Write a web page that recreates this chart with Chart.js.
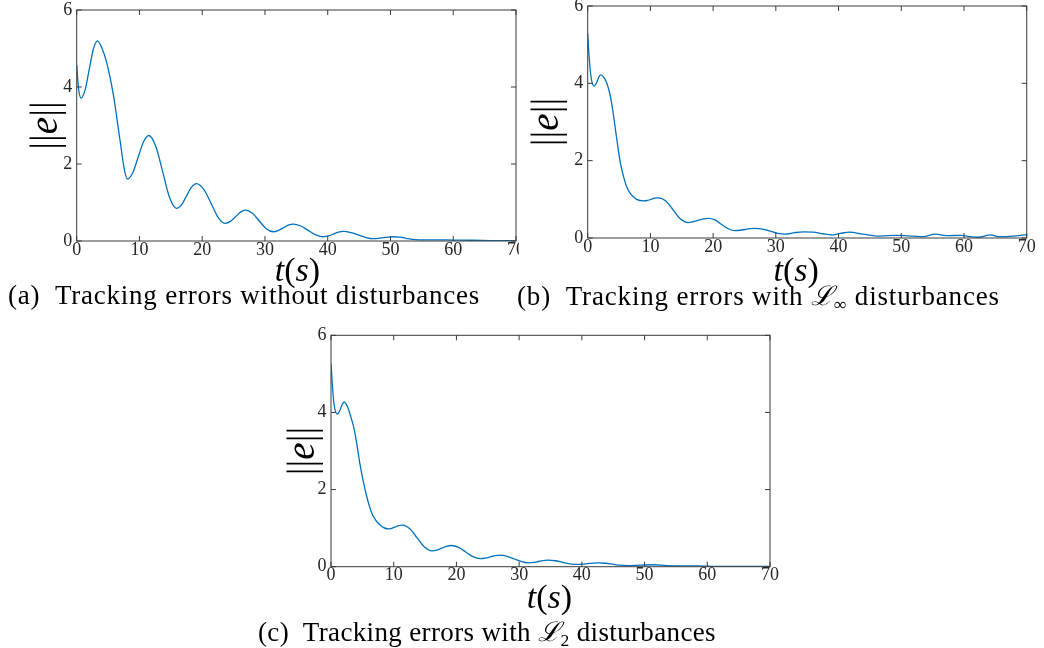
<!DOCTYPE html>
<html>
<head>
<meta charset="utf-8">
<script src="https://cdn.jsdelivr.net/npm/chart.js@4.4.0/dist/chart.umd.min.js"></script>
<style>
  html, body { margin: 0; padding: 0; background: #fff; }
  body { width: 1044px; height: 648px; position: relative; overflow: hidden; }
  canvas { position: absolute; }
  .cap { position: absolute; font-family: 'Liberation Serif', 'DejaVu Serif', serif; font-size: 27px;
         line-height: 1; color: #000; white-space: nowrap; }
  .cap .scr { font-family: 'DejaVu Serif', serif; font-style: italic; }
  .cap sub { font-size: 0.65em; vertical-align: -0.3em; line-height: 0; }
</style>
</head>
<body>
<canvas id="chartA" width="519" height="295" style="left:0;top:0"></canvas>
<canvas id="chartB" width="525" height="292" style="left:519px;top:0"></canvas>
<canvas id="chartC" width="540" height="302" style="left:250px;top:318px"></canvas>

<div class="cap" id="capA" style="left:8px;top:282px">(a)&nbsp; Tracking errors without disturbances</div>
<div class="cap" id="capB" style="left:517px;top:282px">(b)&nbsp; Tracking errors with <span class="scr">ℒ</span><sub>∞</sub> disturbances</div>
<div class="cap" id="capC" style="left:258px;top:618px">(c)&nbsp; Tracking errors with <span class="scr">ℒ</span><sub>2</sub> disturbances</div>

<script>
// time axis ticks and error axis ticks
const xTicks = [0, 10, 20, 30, 40, 50, 60, 70];
const yTicks = [0, 2, 4, 6];

// (a) without disturbances
const timeA = [0, 0.3, 0.7, 1.35, 2.0, 2.65, 3.3, 4.0, 4.8, 5.8, 6.9, 7.6, 8.1, 8.95, 9.8, 10.65, 11.5,
  12.6, 13.7, 14.8, 15.9, 16.7, 17.5, 18.3, 19.1, 20.25, 21.4, 22.55, 23.7, 24.5, 25.3, 26.1, 26.9,
  28.0, 29.1, 30.2, 31.3, 32.1, 32.9, 33.7, 34.5, 35.7, 36.9, 38.1, 39.3, 40.1, 40.9, 41.7, 42.5,
  43.7, 44.9, 46.1, 47.3, 48.1, 48.9, 49.7, 50.5, 51.5, 52.5, 53.5, 54.5, 57, 60, 63, 66, 70];
const errorA = [4.57, 3.95, 3.71, 3.93, 4.46, 4.98, 5.2, 5.02, 4.62, 3.84, 2.62, 1.85, 1.61, 1.78, 2.18, 2.58, 2.74,
  2.46, 1.8, 1.13, 0.85, 0.94, 1.17, 1.4, 1.49, 1.34, 0.98, 0.61, 0.46, 0.51, 0.63, 0.75, 0.8,
  0.72, 0.52, 0.32, 0.24, 0.27, 0.34, 0.41, 0.44, 0.39, 0.275, 0.16, 0.11, 0.13, 0.18, 0.23, 0.25,
  0.22, 0.155, 0.09, 0.06, 0.067, 0.085, 0.103, 0.11, 0.098, 0.07, 0.042, 0.03, 0.03, 0.025, 0.02, 0.012, 0.005];

// (b) with L-infinity disturbances
const timeB = [0, 0.2, 0.5, 1.0, 1.27, 1.55, 1.82, 2.1, 2.6, 3.0, 3.5, 4.0, 4.6, 5.2, 5.7, 6.2, 6.75, 7.8,
  8.9, 9.5, 10.1, 10.7, 11.3, 12.5, 13.65, 14.8, 16.0, 16.8, 17.6, 18.4, 19.2, 20.3, 21.35, 22.4, 23.5,
  24.3, 25.1, 25.9, 26.7, 27.9, 29.1, 30.3, 31.5, 33, 34.4, 36.0, 37.5, 38.9, 40.3, 41.8, 43.9, 46.6,
  49.3, 51.9, 53.5, 55.4, 57.2, 59.6, 61.0, 62.3, 64.2, 65.7, 67.9, 69.7, 70];
const errorB = [5.29, 4.75, 4.2, 3.93, 3.97, 4.07, 4.18, 4.22, 4.15, 4.02, 3.75, 3.3, 2.6, 1.95, 1.6, 1.33, 1.16, 1.0,
  0.96, 0.97, 1.0, 1.03, 1.04, 0.95, 0.72, 0.49, 0.4, 0.42, 0.455, 0.49, 0.51, 0.47, 0.35, 0.24, 0.19,
  0.2, 0.22, 0.24, 0.25, 0.23, 0.175, 0.12, 0.1, 0.14, 0.16, 0.15, 0.11, 0.08, 0.12, 0.15, 0.1, 0.05,
  0.07, 0.05, 0.035, 0.1, 0.06, 0.07, 0.035, 0.02, 0.08, 0.035, 0.05, 0.08, 0.07];

// (c) with L2 disturbances
const timeC = [0, 0.2, 0.5, 1.0, 1.27, 1.55, 1.82, 2.1, 2.7, 3.1, 3.6, 4.1, 4.6, 5.1, 5.7, 6.2, 6.75, 7.9,
  9.1, 9.7, 10.25, 10.8, 11.4, 12.6, 13.75, 14.9, 16.1, 16.9, 17.65, 18.4, 19.2, 20.35, 21.5, 22.65, 23.8,
  24.6, 25.4, 26.2, 27.0, 28.1, 29.25, 30.4, 31.5, 32.3, 33.05, 33.8, 34.6, 35.75, 36.9, 38.05, 39.2,
  40.05, 40.9, 41.75, 42.6, 43.75, 44.9, 46.05, 47.2, 49.3, 51.4, 53.5, 56, 58.3, 61.5, 65, 70];
const errorC = [5.27, 4.75, 4.2, 3.96, 4.0, 4.11, 4.22, 4.27, 4.12, 3.92, 3.63, 3.2, 2.68, 2.25, 1.82, 1.53, 1.3, 1.07,
  0.98, 0.995, 1.03, 1.065, 1.08, 0.98, 0.745, 0.51, 0.41, 0.43, 0.48, 0.53, 0.55, 0.5, 0.38, 0.26, 0.21,
  0.223, 0.255, 0.287, 0.3, 0.27, 0.2, 0.13, 0.1, 0.11, 0.135, 0.16, 0.17, 0.154, 0.115, 0.076, 0.06,
  0.066, 0.08, 0.094, 0.1, 0.09, 0.065, 0.04, 0.03, 0.04, 0.05, 0.03, 0.02, 0.02, 0.008, 0.005, 0.005];

const yLabelParts = [['||', false], ['e', true], ['||', false]];
const xLabelParts = [['t', true], ['(', false], ['s', true], [')', false]];

const lineColor = '#0072BD';
const axisColor = '#3a3a3a';
const tickColor = '#262626';
const serif = "'Liberation Serif', 'Times New Roman', serif";

function drawParts(ctx, parts, size) {
  const fontOf = it => (it ? 'italic ' : '') + size + 'px ' + serif;
  let total = 0;
  parts.forEach(p => { ctx.font = fontOf(p[1]); total += ctx.measureText(p[0]).width; });
  let x = -total / 2;
  ctx.textBaseline = 'alphabetic';
  ctx.textAlign = 'left';
  parts.forEach(p => {
    ctx.font = fontOf(p[1]);
    ctx.fillText(p[0], x, 0);
    x += ctx.measureText(p[0]).width;
  });
}

// box with inward ticks on all four sides, MATLAB style
const matlabAxes = {
  id: 'matlabAxes',
  afterDatasetsDraw(chart) {
    const {ctx, chartArea: a, scales: {x, y}} = chart;
    const len = 5;
    ctx.save();
    ctx.strokeStyle = axisColor;
    ctx.lineWidth = 1;
    ctx.strokeRect(a.left, a.top, a.width, a.height);
    ctx.beginPath();
    x.ticks.forEach(t => {
      const px = x.getPixelForValue(t.value);
      ctx.moveTo(px, a.bottom); ctx.lineTo(px, a.bottom - len);
      ctx.moveTo(px, a.top); ctx.lineTo(px, a.top + len);
    });
    y.ticks.forEach(t => {
      const py = y.getPixelForValue(t.value);
      ctx.moveTo(a.left, py); ctx.lineTo(a.left + len, py);
      ctx.moveTo(a.right, py); ctx.lineTo(a.right - len, py);
    });
    ctx.stroke();
    ctx.restore();
  },
  afterDraw(chart, args, opts) {
    const {ctx, chartArea: a} = chart;
    ctx.save();
    ctx.fillStyle = '#000';
    ctx.translate(a.left - opts.yGap, (a.top + a.bottom) / 2);
    ctx.rotate(-Math.PI / 2);
    drawParts(ctx, yLabelParts, 39);
    ctx.restore();
    ctx.save();
    ctx.fillStyle = '#000';
    ctx.translate((a.left + a.right) / 2 + opts.xShift, a.bottom + opts.xDrop);
    drawParts(ctx, xLabelParts, 34);
    ctx.restore();
  }
};

function makeChart(id, times, errors, box, labels) {
  const canvas = document.getElementById(id);
  const W = canvas.width, H = canvas.height;
  const tickFont = {family: serif, size: 18, lineHeight: 1};
  return new Chart(canvas, {
    type: 'line',
    data: {
      datasets: [{
        data: times.map((t, i) => ({x: t, y: errors[i]})),
        borderColor: lineColor,
        borderWidth: 1.3,
        pointRadius: 0,
        fill: false,
        cubicInterpolationMode: 'monotone'
      }]
    },
    options: {
      responsive: false,
      animation: false,
      events: [],
      layout: {padding: {left: 0, top: box.top, right: W - box.right, bottom: 0}},
      plugins: {legend: {display: false}, tooltip: {enabled: false}, matlabAxes: labels},
      scales: {
        x: {
          type: 'linear', min: 0, max: 70,
          afterBuildTicks: s => { s.ticks = xTicks.map(v => ({value: v})); },
          grid: {display: false, drawTicks: false},
          border: {display: false},
          ticks: {color: tickColor, font: tickFont, padding: 0, maxRotation: 0, autoSkip: false},
          afterFit: s => { s.height = H - box.bottom; s.paddingLeft = 0; s.paddingRight = 0; }
        },
        y: {
          type: 'linear', min: 0, max: 6,
          afterBuildTicks: s => { s.ticks = yTicks.map(v => ({value: v})); },
          grid: {display: false, drawTicks: false},
          border: {display: false},
          ticks: {color: tickColor, font: tickFont, padding: 4.5},
          afterFit: s => { s.width = box.left; s.paddingTop = 0; s.paddingBottom = 0; }
        }
      }
    },
    plugins: [matlabAxes]
  });
}

makeChart('chartA', timeA, errorA, {left: 76.7, top: 10, right: 516, bottom: 241}, {yGap: 20, xShift: 1, xDrop: 40});
makeChart('chartB', timeB, errorB, {left: 68.7, top: 6, right: 507.7, bottom: 238}, {yGap: 30, xShift: -11, xDrop: 43});
makeChart('chartC', timeC, errorC, {left: 81, top: 17.3, right: 520, bottom: 248.7}, {yGap: 17.5, xShift: -1, xDrop: 41});

// stretch captions to the measured widths of the reference
[['capA', 472], ['capB', 483], ['capC', 458]].forEach(([id, target]) => {
  const el = document.getElementById(id);
  const natural = el.getBoundingClientRect().width;
  const n = el.textContent.length;
  el.style.letterSpacing = ((target - natural) / n).toFixed(2) + 'px';
});
</script>
</body>
</html>
